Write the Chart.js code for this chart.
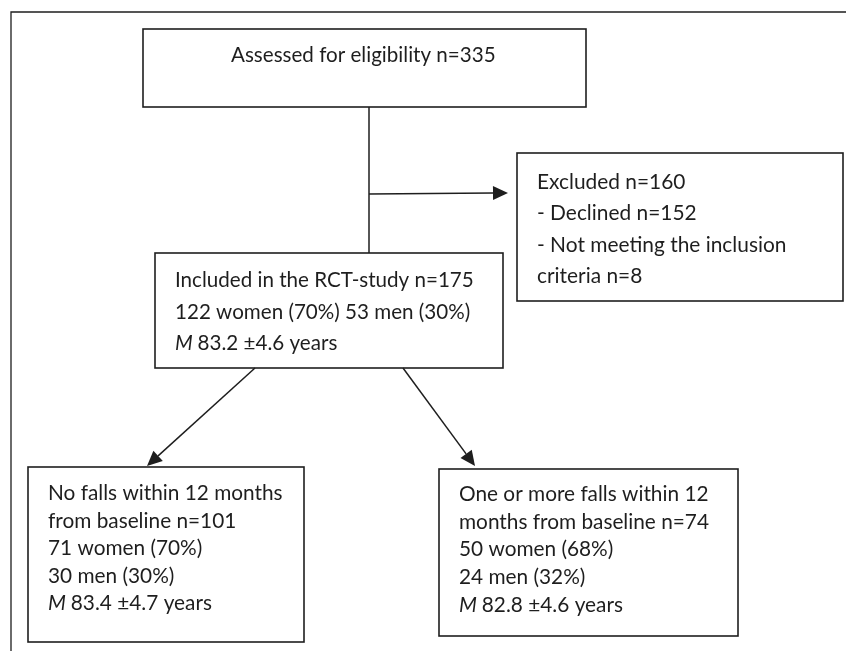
<!DOCTYPE html>
<html lang="en">
<head>
  <meta charset="UTF-8">
  <title>Flow of participants</title>
  <script src="https://cdn.jsdelivr.net/npm/chart.js"></script>
  <style>
    body {
      margin: 0;
      background: #fff;
    }
    #wrap {
      width: 846px;
      height: 651px;
    }
  </style>
</head>
<body>
  <div id="wrap"><canvas id="flow"></canvas></div>

  <script>
    // ---------------- box contents ---------------- //
    const assessedText = ['Assessed for eligibility n=335'];
    const excludedText = ['Excluded n=160', '- Declined n=152', '- Not meeting the inclusion', 'criteria n=8'];
    const includedText = ['Included in the RCT-study n=175', '122 women (70%) 53 men (30%)', 'M 83.2 \u00b14.6 years'];
    const noFallText = ['No falls within 12 months', 'from baseline n=101', '71 women (70%)', '30 men (30%)', 'M 83.4 \u00b14.7 years'];
    const fallText = ['One or more falls within 12', 'months from baseline n=74', '50 women (68%)', '24 men (32%)', 'M 82.8 \u00b14.6 years'];

    // ---------------- layout (in axis units = px of the reference) ---------------- //
    const boxes = [
      { lines: assessedText, x: 143, y: 29, w: 443, h: 78, tx: 231, ty: 62, step: 0, size: 20.6 },
      { lines: excludedText, x: 517, y: 153, w: 326, h: 148, tx: 537, ty: 189, step: 31.3, size: 20.9 },
      { lines: includedText, x: 155, y: 253, w: 348, h: 115, tx: 175, ty: 287, step: 31.7, size: 20.6 },
      { lines: noFallText, x: 28, y: 467, w: 276, h: 175, tx: 48, ty: 500, step: 27.6, size: 20.8 },
      { lines: fallText, x: 439, y: 469, w: 299, h: 167, tx: 459, ty: 501, step: 27.7, size: 20.8 }
    ];
    // connectors: [x1, y1, x2, y2, arrow]
    const links = [
      [369, 107, 369, 253, false],
      [369, 194, 508, 193, true],
      [255, 368, 147, 466, true],
      [403, 368, 475, 466, true]
    ];
    const ink = '#1e1e1e';
    const fontFamily = 'Lato, "Open Sans", sans-serif';

    const flowPlugin = {
      id: 'flow',
      afterDraw(chart) {
        const c = chart.ctx;
        const sx = chart.scales.x, sy = chart.scales.y;
        const px = v => sx.getPixelForValue(v);
        const py = v => sy.getPixelForValue(v);
        c.save();
        c.strokeStyle = ink;
        c.fillStyle = ink;

        // outer frame (top and left edges only)
        c.lineWidth = 1.3;
        c.beginPath();
        c.moveTo(px(846), py(12));
        c.lineTo(px(11), py(12));
        c.lineTo(px(11), py(651));
        c.stroke();

        // boxes
        c.lineWidth = 1.6;
        boxes.forEach(b => {
          c.strokeRect(px(b.x), py(b.y), px(b.x + b.w) - px(b.x), py(b.y + b.h) - py(b.y));
          c.textBaseline = 'alphabetic';
          b.lines.forEach((line, i) => {
            const lx = px(b.tx), ly = py(b.ty + i * b.step);
            if (line.startsWith('M ')) {
              c.font = `italic ${b.size}px ${fontFamily}`;
              c.fillText('M', lx, ly);
              const w = c.measureText('M ').width;
              c.font = `${b.size}px ${fontFamily}`;
              c.fillText(line.slice(2), lx + w, ly);
            } else {
              c.font = `${b.size}px ${fontFamily}`;
              c.fillText(line, lx, ly);
            }
          });
        });

        // connectors with arrow heads
        c.lineWidth = 1.5;
        links.forEach(([x1, y1, x2, y2, arrow]) => {
          const ax = px(x1), ay = py(y1), bx = px(x2), by = py(y2);
          const ang = Math.atan2(by - ay, bx - ax);
          const len = 15, half = 7;
          const ex = arrow ? bx - Math.cos(ang) * len : bx;
          const ey = arrow ? by - Math.sin(ang) * len : by;
          c.beginPath();
          c.moveTo(ax, ay);
          c.lineTo(ex, ey);
          c.stroke();
          if (arrow) {
            c.beginPath();
            c.moveTo(bx, by);
            c.lineTo(ex - Math.sin(ang) * half, ey + Math.cos(ang) * half);
            c.lineTo(ex + Math.sin(ang) * half, ey - Math.cos(ang) * half);
            c.closePath();
            c.fill();
          }
        });
        c.restore();
      }
    };

    new Chart(document.getElementById('flow'), {
      type: 'scatter',
      data: { datasets: [{ data: [], pointRadius: 0 }] },
      options: {
        responsive: true,
        maintainAspectRatio: false,
        animation: false,
        layout: { padding: 0 },
        plugins: { legend: { display: false }, tooltip: { enabled: false } },
        scales: {
          x: { type: 'linear', min: 0, max: 846, display: false },
          y: { type: 'linear', min: 0, max: 651, reverse: true, display: false }
        }
      },
      plugins: [flowPlugin]
    });
  </script>
</body>
</html>
